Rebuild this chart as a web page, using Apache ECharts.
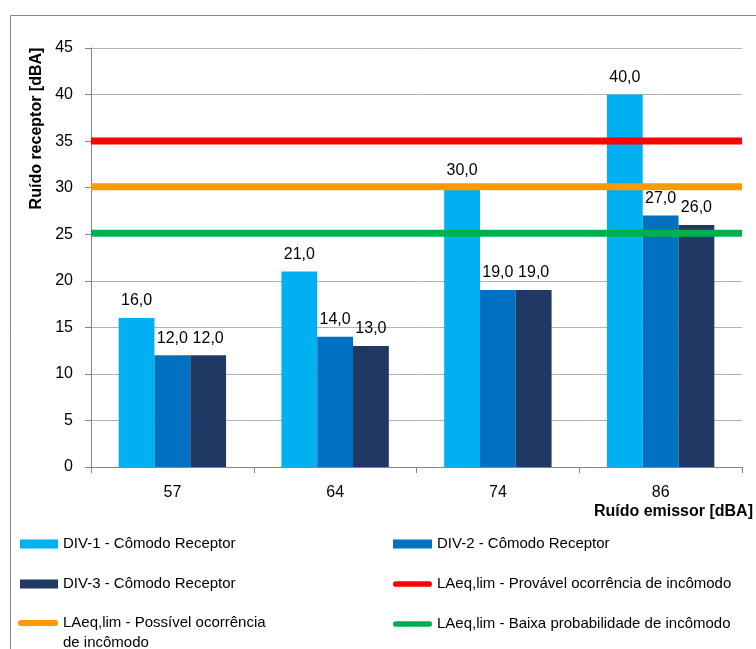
<!DOCTYPE html>
<html><head><meta charset="utf-8">
<script src="https://cdn.jsdelivr.net/npm/echarts@6/dist/echarts.min.js"></script>
<style>html,body{margin:0;padding:0;background:#fff}#c{width:756px;height:649px}</style>
</head><body><div id="c"></div>
<script>
// ---- data ----
const categories = ['57', '64', '74', '86'];
const div1 = [16, 21, 30, 40];
const div2 = [12, 14, 19, 27];
const div3 = [12, 13, 19, 26];
const limProvavel = 35.0;
const limPossivel = 30.1;
const limBaixa = 25.1;
const seriesNames = [
  'DIV-1 - Cômodo Receptor',
  'DIV-2 - Cômodo Receptor',
  'DIV-3 - Cômodo Receptor',
  'LAeq,lim - Provável ocorrência de incômodo',
  'LAeq,lim - Possível ocorrência de incômodo',
  'LAeq,lim - Baixa probabilidade de incômodo'
];
const yAxisTitle = 'Ruído receptor [dBA]';
const xAxisTitle = 'Ruído emissor [dBA]';

const FONT = '"Liberation Sans", Arial, sans-serif';
const fmt = v => v.toFixed(1).replace('.', ',');
const CAPSULE = 'path://M3,0 H38 A3,3 0 0 1 38,6 H3 A3,3 0 0 1 3,0 Z';

function barSeries(name, data, color) {
  return {
    name, type: 'bar', data, xAxisIndex: 0, yAxisIndex: 0,
    barGap: '0%', barCategoryGap: '34%',
    itemStyle: { color },
    z: 2,
    label: { show: true, position: 'top', distance: 9, color: '#000',
      fontFamily: FONT, fontSize: 16, formatter: p => fmt(p.value) }
  };
}
function limitSeries(name, value, color) {
  return {
    name, type: 'line', xAxisIndex: 1, yAxisIndex: 0,
    data: [[0, value], [1, value]],
    symbol: 'none', showSymbol: false, silent: true,
    lineStyle: { color, width: 7, cap: 'butt' },
    itemStyle: { color },
    z: 5
  };
}

const chart = echarts.init(document.getElementById('c'), null, { renderer: 'canvas' });
const legendText = { fontFamily: FONT, fontSize: 15, color: '#000', lineHeight: 18 };
chart.setOption({
  animation: false,
  backgroundColor: '#fff',
  grid: { left: 91, right: 12, top: 48, bottom: 182, containLabel: false },
  xAxis: [{
    type: 'category', data: categories,
    name: xAxisTitle, nameLocation: 'end', nameGap: 11,
    nameTextStyle: { fontFamily: FONT, fontSize: 16, fontWeight: 'bold', color: '#000',
      align: 'right', verticalAlign: 'top', padding: [37, 0, 0, 0] },
    axisLine: { lineStyle: { color: '#868686', width: 1 } },
    axisTick: { show: true, length: 6, lineStyle: { color: '#868686' } },
    axisLabel: { fontFamily: FONT, fontSize: 16, color: '#000', margin: 18 },
    splitLine: { show: false }
  }, {
    type: 'value', min: 0, max: 1, show: false
  }],
  yAxis: [{
    type: 'value', min: 0, max: 45, interval: 5,
    axisLine: { show: true, lineStyle: { color: '#868686', width: 1 } },
    axisTick: { show: true, length: 6, lineStyle: { color: '#868686' } },
    axisLabel: { fontFamily: FONT, fontSize: 16, color: '#000', margin: 18 },
    splitLine: { show: true, lineStyle: { color: '#b3b3b3', width: 1 } }
  }],
  legend: [{
    orient: 'vertical', left: 20, top: 535, padding: 0,
    itemWidth: 38, itemHeight: 9, itemGap: 22,
    data: [
      { name: seriesNames[0], icon: 'rect' },
      { name: seriesNames[2], icon: 'rect' }
    ],
    textStyle: legendText
  }, {
    orient: 'vertical', left: 393, top: 535, padding: 0,
    itemWidth: 39, itemHeight: 9, itemGap: 22,
    data: [
      { name: seriesNames[1], icon: 'rect' },
      { name: seriesNames[3], icon: CAPSULE },
      { name: seriesNames[5], icon: CAPSULE }
    ],
    textStyle: legendText
  }, {
    orient: 'vertical', left: 18, top: 593, padding: 0,
    itemWidth: 40, itemHeight: 9, itemGap: 5,
    data: [{ name: seriesNames[4], icon: CAPSULE }],
    formatter: () => ' \nLAeq,lim - Possível ocorrência\nde incômodo',
    textStyle: Object.assign({}, legendText, { lineHeight: 20 })
  }],
  graphic: [{
    type: 'rect', silent: true, z: -10,
    shape: { x: 10.5, y: 15.5, width: 800, height: 700 },
    style: { fill: 'none', stroke: '#868686', lineWidth: 1 }
  }, {
    type: 'text', silent: true,
    x: 37, y: 128.5, rotation: Math.PI / 2,
    style: { text: yAxisTitle, fontFamily: FONT, fontSize: 16, fontWeight: 'bold',
      fill: '#000', textAlign: 'center', textVerticalAlign: 'middle' }
  }],
  series: [
    barSeries(seriesNames[0], div1, '#00b0f0'),
    barSeries(seriesNames[1], div2, '#0070c0'),
    barSeries(seriesNames[2], div3, '#1f3864'),
    limitSeries(seriesNames[3], limProvavel, '#ff0000'),
    limitSeries(seriesNames[4], limPossivel, '#ff9900'),
    limitSeries(seriesNames[5], limBaixa, '#00b050')
  ]
});
</script>
</body></html>
